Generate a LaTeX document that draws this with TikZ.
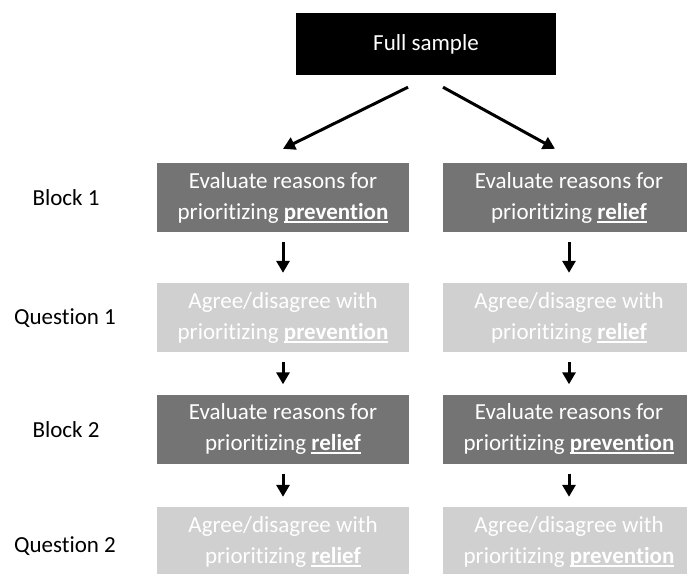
\documentclass[tikz,border=0pt]{standalone}
\usepackage{fontspec}
\setmainfont{Carlito}[Ligatures={NoCommon}]
\usepackage{tikz}
\usetikzlibrary{arrows.meta,
	positioning}

\definecolor{darkbox}{HTML}{747474}
\definecolor{lightbox}{HTML}{D0D0D0}

\tikzset{
	box/.style={minimum width=252pt, minimum height=69pt, inner sep=0pt,
		align=center, text=white, font=\fontsize{23}{31}\selectfont},
	evalbox/.style={box, fill=darkbox},
	askbox/.style={box, fill=lightbox},
	rowlabel/.style={font=\fontsize{23}{28}\selectfont},
	arr/.style={-{Triangle[length=12pt,width=13pt]}, line width=3pt},
	down/.style={arr, shorten <=10pt, shorten >=10pt}
}

\newcommand{\keyword}[1]{\textbf{\setbox0\hbox{#1}\rlap{\rule[-3.5pt]{\wd0}{1.7pt}}\box0}}

\begin{document}
\begin{tikzpicture}[x=1pt,y=-1pt]
	\useasboundingbox (0,0) rectangle (687,573);

	\node (full) [fill=black, text=white, minimum width=260pt, minimum height=62pt,
		font=\fontsize{23}{28}\selectfont] at(426,44) {Full sample};

	\node (lab1) [rowlabel] at(66,198) {Block 1};
	\node (lab2) [rowlabel] at(65,318) {Question 1};
	\node (lab3) [rowlabel] at(66,430) {Block 2};
	\node (lab4) [rowlabel] at(65,546) {Question 2};

	\node (b1l) [evalbox] at(283,197.5) {Evaluate reasons for\\prioritizing \keyword{prevention}};
	\node (b1r) [evalbox] at(569,197.5) {Evaluate reasons for\\prioritizing \keyword{relief}};
	\node (q1l) [askbox] at(283,317.5) {Agree/disagree with\\prioritizing \keyword{prevention}};
	\node (q1r) [askbox] at(569,317.5) {Agree/disagree with\\prioritizing \keyword{relief}};
	\node (b2l) [evalbox] at(283,429) {Evaluate reasons for\\prioritizing \keyword{relief}};
	\node (b2r) [evalbox] at(569,429) {Evaluate reasons for\\prioritizing \keyword{prevention}};
	\node (q2l) [askbox] at(283,541.5) {Agree/disagree with\\prioritizing \keyword{relief}};
	\node (q2r) [askbox] at(569,541.5) {Agree/disagree with\\prioritizing \keyword{prevention}};

	\draw [arr] ([xshift=-18pt,yshift=-12pt]full.south) -- ([yshift=14pt]b1l.north);
	\draw [arr] ([xshift=17pt,yshift=-12pt]full.south) -- ([xshift=-14pt,yshift=14pt]b1r.north);

	\draw [down] (b1l) -- (q1l);
	\draw [down] (b1r) -- (q1r);
	\draw [down] (q1l) -- (b2l);
	\draw [down] (q1r) -- (b2r);
	\draw [down] (b2l) -- (q2l);
	\draw [down] (b2r) -- (q2r);

\end{tikzpicture}
\end{document}
